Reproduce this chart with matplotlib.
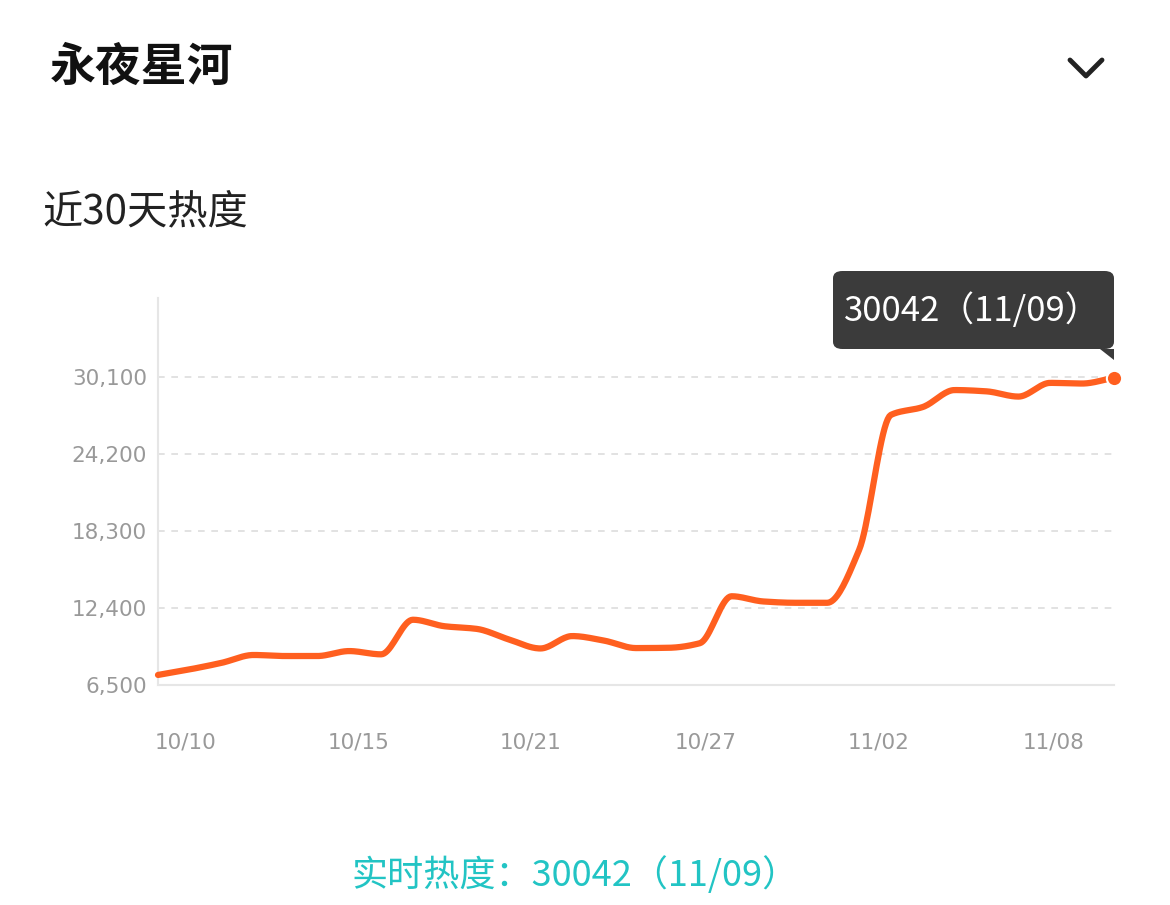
import numpy as np
import matplotlib
matplotlib.use("Agg")
import matplotlib.pyplot as plt

days = list(range(31))
heat = [7270, 7700, 8200, 8800, 8720, 8720, 9100, 8850, 11500, 11000, 10800,
        10000, 9300, 10250, 9900, 9330, 9350, 9700, 13300, 12900, 12800, 12800,
        16840, 27200, 27800, 29100, 29000, 28600, 29650, 29600, 30042]
tick_pos = [0.88, 6.3, 11.7, 17.2, 22.6, 28.1]
tick_labels = ["10/10", "10/15", "10/21", "10/27", "11/02", "11/08"]
y_ticks = [6500, 12400, 18300, 24200, 30100]

def pchip(x, y, n=20):
    x = np.asarray(x, float); y = np.asarray(y, float)
    h = np.diff(x); d = np.diff(y) / h
    m = np.zeros_like(y)
    for k in range(1, len(y) - 1):
        if d[k-1] * d[k] > 0:
            m[k] = 2 / (1 / d[k-1] + 1 / d[k])
    m[0], m[-1] = d[0], d[-1]
    xs, ys = [], []
    for k in range(len(x) - 1):
        t = np.linspace(0, 1, n, endpoint=False)
        h00 = 2*t**3 - 3*t**2 + 1; h10 = t**3 - 2*t**2 + t
        h01 = -2*t**3 + 3*t**2; h11 = t**3 - t**2
        xs.append(x[k] + t*h[k])
        ys.append(h00*y[k] + h10*h[k]*m[k] + h01*y[k+1] + h11*h[k]*m[k+1])
    xs.append([x[-1]]); ys.append([y[-1]])
    return np.concatenate(xs), np.concatenate(ys)

W, H = 1170, 905
fig = plt.figure(figsize=(W/100, H/100), dpi=100)
fig.patch.set_facecolor("white")
font = "Noto Sans CJK SC"
plt.rcParams["font.family"] = font

ax = fig.add_axes([158/W, 1 - 685/H, (1114-158)/W, (685-298)/H])
ax.set_xlim(0, 30)
ax.set_ylim(6500, 6500 + (685-298)/77*5900)
xs, ys = pchip(days, heat)
ax.plot(xs, ys, color="#ff5f1f", lw=4.5, solid_capstyle="round", clip_on=False, zorder=3)
ax.plot([days[-1]], [heat[-1]], "o", color="#ff5f1f", ms=11, mec="white", mew=1.5, clip_on=False, zorder=4)
for yv in y_ticks[1:]:
    ax.axhline(yv, color="#dddddd", lw=1.2, ls=(0, (4, 4)), zorder=1)
for s in ["top", "right"]:
    ax.spines[s].set_visible(False)
ax.spines["left"].set_color("#e6e6e6"); ax.spines["bottom"].set_color("#e6e6e6")
ax.spines["left"].set_linewidth(1.5); ax.spines["bottom"].set_linewidth(1.5)
ax.set_yticks(y_ticks)
ax.set_yticklabels([f"{v:,}" for v in y_ticks], color="#999999", fontsize=15.5, fontfamily="DejaVu Sans")
ax.set_xticks(tick_pos)
ax.set_xticklabels(tick_labels, color="#999999", fontsize=15.5, fontfamily="DejaVu Sans")
ax.tick_params(length=0, pad=8)
ax.tick_params(axis="x", pad=34)

fig.text(50/W, 1 - 68/H, "永夜星河", fontsize=33, fontweight="bold", va="center", ha="left", color="#111111")
fig.text(42/W, 1 - 212/H, "近30天热度", fontsize=29, va="center", ha="left", color="#222222")
fig.add_artist(plt.Line2D([1070/W, 1086/W, 1102/W], [1-60/H, 1-76/H, 1-60/H], color="#222222", lw=3.5, solid_capstyle="round", solid_joinstyle="round"))

from matplotlib.patches import FancyBboxPatch, Polygon
fig.add_artist(FancyBboxPatch((833/W, 1-349/H), 281/W, 78/H, boxstyle="round,pad=0,rounding_size=0.008",
                              transform=fig.transFigure, fc="#3b3b3b", ec="none"))
fig.add_artist(Polygon([(1100/W, 1-349/H), (1114/W, 1-349/H), (1114/W, 1-360/H)], closed=True,
                       transform=fig.transFigure, fc="#3b3b3b", ec="none"))
fig.text(972/W, 1 - 311/H, f"{heat[-1]}（11/09）", fontsize=25, color="white", ha="center", va="center")
fig.text(575/W, 1 - 875/H, f"实时热度：{heat[-1]}（11/09）", fontsize=26, color="#22c4c4", ha="center", va="center")

fig.savefig("out.png", dpi=100)
